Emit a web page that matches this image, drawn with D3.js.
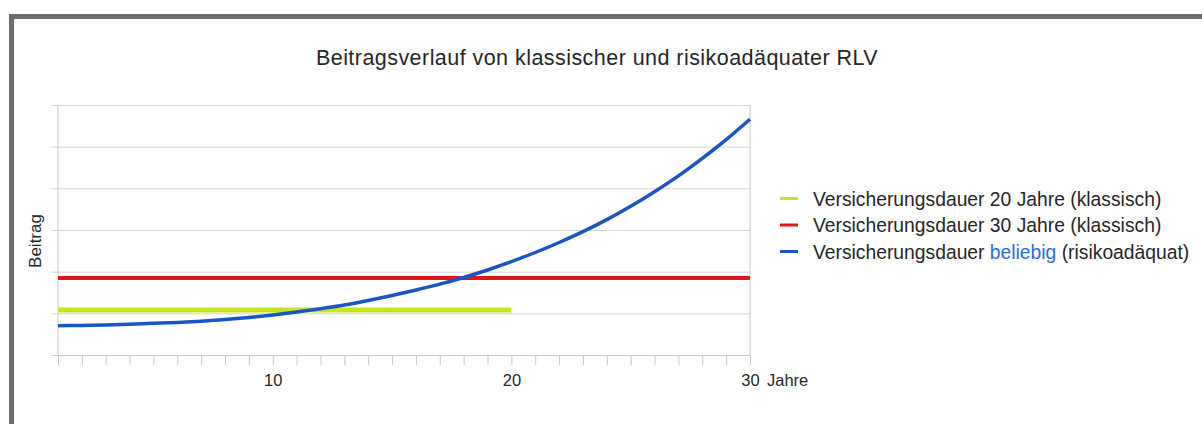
<!DOCTYPE html>
<html>
<head>
<meta charset="utf-8">
<script src="https://cdn.jsdelivr.net/npm/d3@7"></script>
<style>
  html, body { margin: 0; padding: 0; background: #fff; }
  svg { display: block; font-family: "Liberation Sans", Arial, sans-serif; }
</style>
</head>
<body>
<svg id="chart" width="1202" height="424"></svg>
<script>
// ---- data ----
const years = d3.range(1, 31);
const beitragRisiko = [0.70, 0.71, 0.72, 0.74, 0.76, 0.78, 0.81, 0.85, 0.90, 0.96,
                       1.03, 1.11, 1.20, 1.31, 1.43, 1.56, 1.70, 1.86, 2.04, 2.24,
                       2.46, 2.70, 2.96, 3.25, 3.57, 3.92, 4.30, 4.72, 5.17, 5.66];
const years20 = d3.range(1, 21);
const beitrag20 = years20.map(() => 1.08);
const beitrag30 = years.map(() => 1.85);
const xTickLabels = [10, 20, 30];
const yTicks = [0, 1, 2, 3, 4, 5, 6];
const legendLabels = [
  ["Versicherungsdauer 20 Jahre (klassisch)"],
  ["Versicherungsdauer 30 Jahre (klassisch)"],
  ["Versicherungsdauer ", "beliebig", " (risikoadäquat)"]
];
const titleText = "Beitragsverlauf von klassischer und risikoadäquater RLV";

// ---- layout ----
const svg = d3.select("#chart");
const x = d3.scaleLinear().domain([1, 30]).range([58, 750]);
const y = d3.scaleLinear().domain([0, 6]).range([355, 105]);

// outer frame (top and left)
svg.append("rect").attr("x", 9).attr("y", 14).attr("width", 1193).attr("height", 5).attr("fill", "#6e6e6e");
svg.append("rect").attr("x", 9).attr("y", 14).attr("width", 5).attr("height", 410).attr("fill", "#6e6e6e");

// title
svg.append("text")
  .attr("x", 597).attr("y", 65)
  .attr("text-anchor", "middle")
  .attr("font-size", 21.5).attr("letter-spacing", 0.45)
  .attr("fill", "#262626")
  .text(titleText);

// horizontal gridlines with left stubs
const gy = svg.append("g").attr("transform", "translate(51,0)")
  .call(d3.axisRight(y).tickValues(yTicks).tickSize(699).tickFormat(""));
gy.select(".domain").remove();
gy.selectAll(".tick line").attr("stroke", "#d4d4d4");

// vertical plot borders
[1, 30].forEach(v => {
  svg.append("line").attr("x1", x(v)).attr("x2", x(v)).attr("y1", y(6)).attr("y2", y(0))
    .attr("stroke", "#c8c8c8");
});

// x axis
const gx = svg.append("g").attr("transform", `translate(0,${y(0)})`)
  .call(d3.axisBottom(x).tickValues(years).tickSize(10).tickSizeOuter(0)
    .tickFormat(d => xTickLabels.includes(d) ? d : ""));
gx.select(".domain").attr("stroke", "#c8c8c8");
gx.selectAll(".tick line").attr("stroke", "#c8c8c8");
gx.selectAll(".tick text").attr("font-size", 16.5).attr("fill", "#262626")
  .attr("dy", 0).attr("y", 31).attr("font-family", "Liberation Sans, Arial, sans-serif");

// axis titles
svg.append("text").attr("x", 767).attr("y", 386).attr("font-size", 16.5).attr("fill", "#262626").text("Jahre");
svg.append("text").attr("transform", "translate(41,241) rotate(-90)").attr("text-anchor", "middle")
  .attr("font-size", 17).attr("fill", "#262626").text("Beitrag");

// lines
const line = d3.line().x(d => x(d[0])).y(d => y(d[1]));
const smooth = d3.line().x(d => x(d[0])).y(d => y(d[1])).curve(d3.curveMonotoneX);

svg.append("path").datum(d3.zip(years20, beitrag20)).attr("d", line)
  .attr("fill", "none").attr("stroke", "#c8e41e").attr("stroke-width", 5);
svg.append("path").datum(d3.zip(years, beitrag30)).attr("d", line)
  .attr("fill", "none").attr("stroke", "#e0161c").attr("stroke-width", 4);
svg.append("path").datum(d3.zip(years, beitragRisiko)).attr("d", smooth)
  .attr("fill", "none").attr("stroke", "#1a55c4").attr("stroke-width", 3.5);

// legend
const legendColors = ["#c8e41e", "#e0161c", "#1a55c4"];
const rowY = [198.5, 225, 251.5];
legendLabels.forEach((parts, i) => {
  svg.append("line").attr("x1", 780).attr("x2", 798).attr("y1", rowY[i]).attr("y2", rowY[i])
    .attr("stroke", legendColors[i]).attr("stroke-width", 3);
  const t = svg.append("text").attr("x", 813).attr("y", rowY[i] + 7)
    .attr("font-size", 19.3).attr("fill", "#262626");
  parts.forEach((p, j) => {
    t.append("tspan").text(p).attr("fill", (parts.length === 3 && j === 1) ? "#2a6fd6" : "#262626")
      .attr("xml:space", "preserve");
  });
});
</script>
</body>
</html>
